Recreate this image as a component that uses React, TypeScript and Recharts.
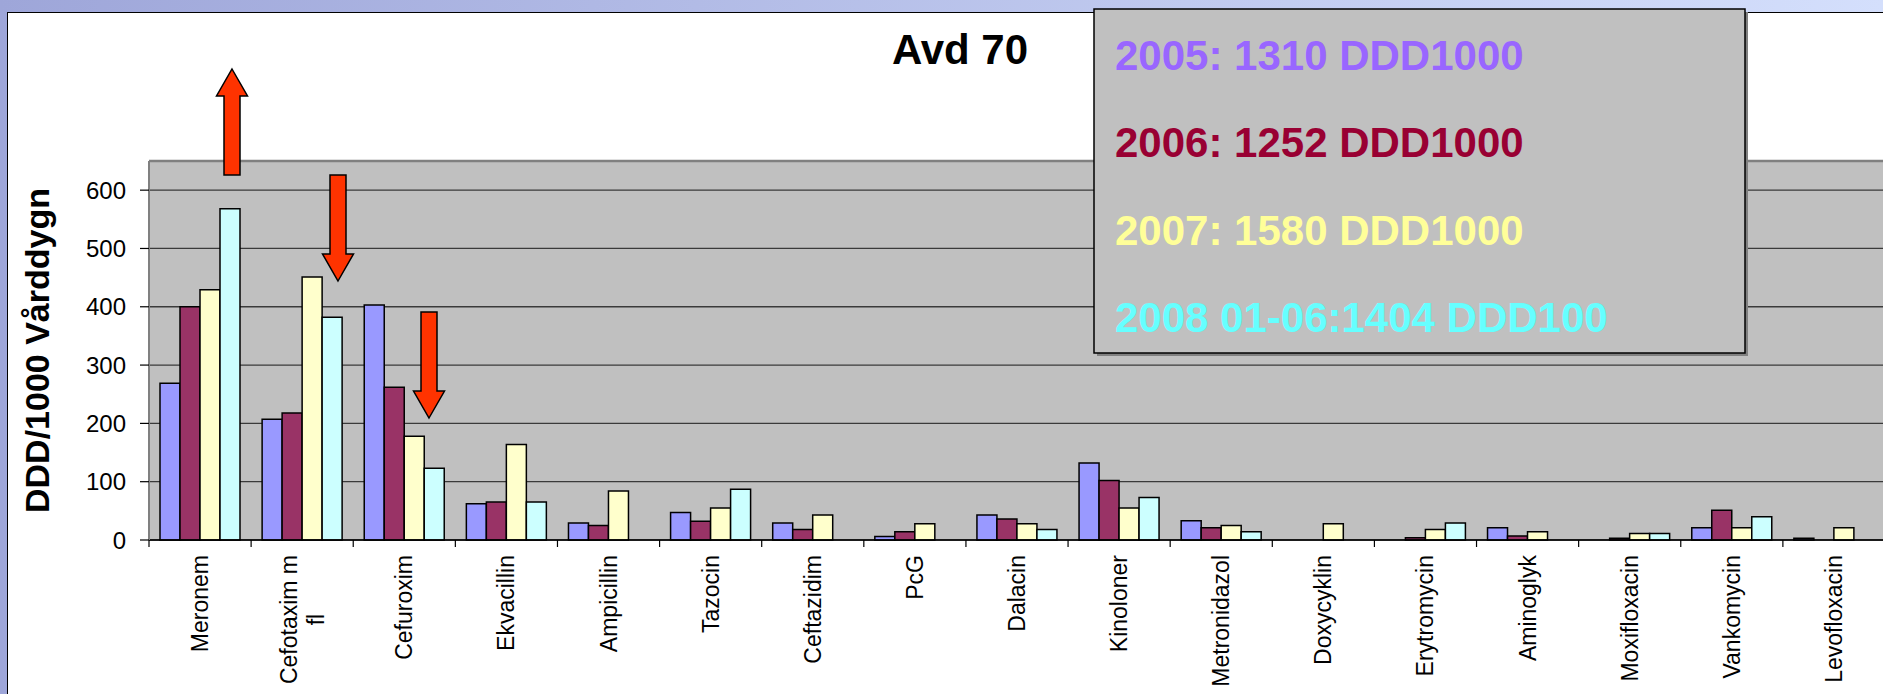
import React from 'react';
import { BarChart, Bar, XAxis, YAxis, CartesianGrid, ReferenceLine, Label } from 'recharts';

// Category names (Excel wrapped "Cefotaxim m fl" on two lines)
const categories = [
  'Meronem', 'Cefotaxim m fl', 'Cefuroxim', 'Ekvacillin', 'Ampicillin', 'Tazocin',
  'Ceftazidim', 'PcG', 'Dalacin', 'Kinoloner', 'Metronidazol', 'Doxycyklin',
  'Erytromycin', 'Aminoglyk', 'Moxifloxacin', 'Vankomycin', 'Levofloxacin',
];
const wrapped: Record<string, string[]> = { 'Cefotaxim m fl': ['Cefotaxim m', 'fl'] };

// DDD/1000 vårddygn per year
const values2005 = [269, 207, 403, 62, 29, 47, 29, 6, 43, 132, 33, null, null, 21, null, 21, 3];
const values2006 = [400, 218, 262, 65, 25, 32, 18, 14, 36, 102, 21, null, 4, 7, 3, 51, null];
const values2007 = [429, 451, 178, 164, 84, 55, 43, 28, 28, 55, 25, 28, 18, 14, 11, 21, 21];
const values2008 = [568, 382, 123, 65, null, 87, null, null, 18, 73, 14, null, 29, null, 11, 40, null];

const yTicks = [0, 100, 200, 300, 400, 500, 600];
const yMax = 650;

// text box in the upper right
const totalsText = [
  '2005: 1310 DDD1000',
  '2006: 1252 DDD1000',
  '2007: 1580 DDD1000',
  '2008 01-06:1404 DDD100',
];
const totalsColors = ['#9966FF', '#990033', '#FFFF99', '#66FFFF'];

const series = [
  { key: 'y2005', color: '#9999FF' },
  { key: 'y2006', color: '#993366' },
  { key: 'y2007', color: '#FFFFCC' },
  { key: 'y2008', color: '#CCFFFF' },
];

const data = categories.map((name, i) => ({
  name,
  y2005: values2005[i],
  y2006: values2006[i],
  y2007: values2007[i],
  y2008: values2008[i],
}));

const FONT = '"Liberation Sans", Arial, Helvetica, sans-serif';
const PAGE_W = 1883;
const PAGE_H = 694;
const CHART_W = 1890;
const PLOT_LEFT = 149;
const PLOT_RIGHT = 1885;
const PLOT_TOP = 161;
const X_AXIS_H = 154;
const CAT_FONT = 23;

let ctx: CanvasRenderingContext2D | null = null;
const textWidth = (s: string, font: string) => {
  if (!ctx) ctx = document.createElement('canvas').getContext('2d');
  if (!ctx) return s.length * 12;
  ctx.font = font;
  return ctx.measureText(s).width;
};

const CategoryTick = (props: any) => {
  const { x, y, payload } = props;
  const half = payload?.offset || (PLOT_RIGHT - PLOT_LEFT) / categories.length / 2;
  const lines = wrapped[payload.value] || [payload.value];
  const longest = Math.max(...lines.map((l: string) => textWidth(l, `${CAT_FONT}px ${FONT}`)));
  const multi = lines.length > 1;
  return (
    <g>
      <line x1={x - half} x2={x - half} y1={y} y2={y + 7} stroke="#000" strokeWidth={1.2} />
      <g transform={`translate(${x},${y + 15}) rotate(-90)`}>
        {lines.map((ln: string, i: number) => (
          <text
            key={i}
            x={multi ? -longest / 2 : 0}
            y={(i - (lines.length - 1) / 2) * 27}
            textAnchor={multi ? 'middle' : 'end'}
            dominantBaseline="central"
            fontSize={CAT_FONT}
            fontFamily={FONT}
            fill="#000"
          >
            {ln}
          </text>
        ))}
      </g>
    </g>
  );
};

const YTitle = (props: any) => {
  const vb = props.viewBox || { x: 0, y: PLOT_TOP, height: 379 };
  return (
    <text
      transform={`translate(${vb.x + 37},${vb.y + vb.height / 2}) rotate(-90)`}
      textAnchor="middle"
      dominantBaseline="central"
      fontSize={34}
      fontWeight="bold"
      fontFamily={FONT}
      fill="#000"
    >
      DDD/1000 Vårddygn
    </text>
  );
};

const Arrow = ({ x, top, bottom, up }: { x: number; top: number; bottom: number; up: boolean }) => {
  const sw = 8; // half shaft width
  const hw = 15.5; // half head width
  const hl = 27; // head length
  const pts = up
    ? [[x, top], [x + hw, top + hl], [x + sw, top + hl], [x + sw, bottom], [x - sw, bottom], [x - sw, top + hl], [x - hw, top + hl]]
    : [[x, bottom], [x + hw, bottom - hl], [x + sw, bottom - hl], [x + sw, top], [x - sw, top], [x - sw, bottom - hl], [x - hw, bottom - hl]];
  return <polygon points={pts.map(p => p.join(',')).join(' ')} fill="#FF3300" stroke="#000" strokeWidth={1.5} />;
};

const App: React.FC = () => {
  return (
    <div
      style={{
        position: 'fixed',
        left: 0,
        top: 0,
        width: PAGE_W,
        height: PAGE_H,
        overflow: 'hidden',
        background: 'linear-gradient(to right, #9ea6d9, #d4dffc)',
        fontFamily: FONT,
      }}
    >
      <div
        style={{
          position: 'absolute',
          left: 7,
          top: 12,
          width: PAGE_W,
          height: PAGE_H,
          background: '#fff',
          borderTop: '1.5px solid #000',
          borderLeft: '1.5px solid #000',
        }}
      />
      <div style={{ position: 'absolute', left: 0, top: 0 }}>
        <BarChart
          width={CHART_W}
          height={PAGE_H}
          data={data}
          margin={{ top: PLOT_TOP, right: CHART_W - PLOT_RIGHT, bottom: 0, left: 0 }}
          barCategoryGap={11}
          barGap={0}
        >
          <CartesianGrid
            vertical={false}
            fill="#C0C0C0"
            fillOpacity={1}
            stroke="#3a3a3a"
            strokeWidth={1.3}
          />
          <XAxis
            dataKey="name"
            interval={0}
            height={X_AXIS_H}
            tickSize={0}
            tickMargin={0}
            tickLine={false}
            axisLine={{ stroke: '#000', strokeWidth: 1.5 }}
            tick={(p: any) => <CategoryTick {...p} />}
          />
          <YAxis
            width={PLOT_LEFT}
            domain={[0, yMax]}
            ticks={yTicks}
            interval={0}
            tickSize={9}
            tickMargin={14}
            axisLine={{ stroke: '#808080', strokeWidth: 2 }}
            tickLine={{ stroke: '#000', strokeWidth: 1.2 }}
            tick={{ fill: '#000', fontSize: 24, fontFamily: FONT }}
          >
            <Label content={(p: any) => <YTitle {...p} />} />
          </YAxis>
          <ReferenceLine y={yMax} stroke="#808080" strokeWidth={2.5} />
          {series.map(s => (
            <Bar
              key={s.key}
              dataKey={s.key}
              fill={s.color}
              stroke="#000"
              strokeWidth={1.5}
              isAnimationActive={false}
            />
          ))}
        </BarChart>
      </div>
      <svg
        width={PAGE_W}
        height={PAGE_H}
        style={{ position: 'absolute', left: 0, top: 0, pointerEvents: 'none' }}
      >
        <text x={960} y={64} textAnchor="middle" fontSize={42} fontWeight="bold" fontFamily={FONT} fill="#000">
          Avd 70
        </text>
        <Arrow x={232} top={69} bottom={175} up />
        <Arrow x={338} top={175} bottom={281} up={false} />
        <Arrow x={429} top={312} bottom={418} up={false} />
        <rect x={1097} y={12} width={651} height={344} fill="#808080" />
        <rect x={1094} y={9} width={651} height={344} fill="#C0C0C0" stroke="#000" strokeWidth={1.5} />
        {totalsText.map((t, i) => (
          <text
            key={t}
            x={1115}
            y={70 + i * 87.3}
            fontSize={42}
            fontWeight="bold"
            fontFamily={FONT}
            fill={totalsColors[i]}
          >
            {t}
          </text>
        ))}
      </svg>
    </div>
  );
};

export default App;
